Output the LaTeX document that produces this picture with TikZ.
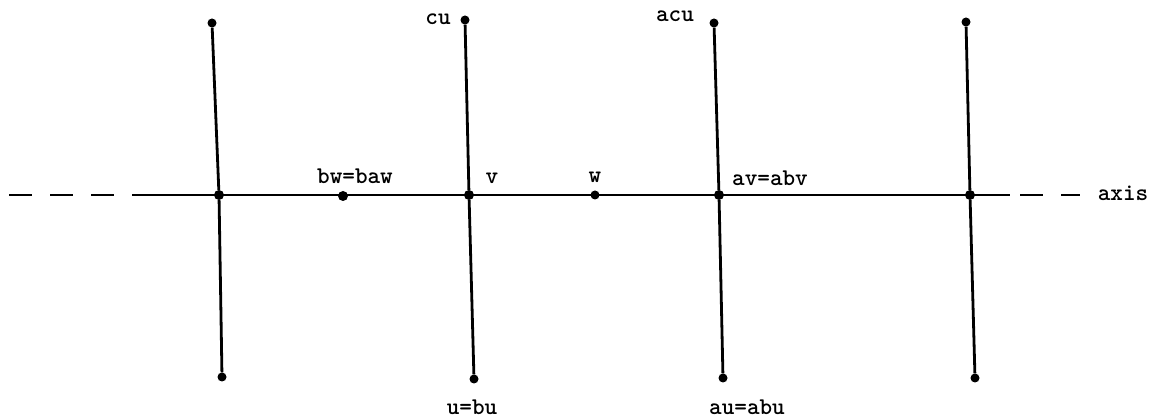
\documentclass[tikz,border=0pt]{standalone}
\begin{document}
\begin{tikzpicture}[x=1pt,y=-1pt,
  edge/.style={line width=2.8pt},
  dashline/.style={line width=2.8pt,dash pattern=on 23pt off 18pt},
  dot/.style={circle,fill=black,inner sep=0pt,minimum size=9pt},
  xdot/.style={circle,fill=black,inner sep=0pt,minimum size=10pt},
  lab/.style={font=\fontsize{24}{28}\selectfont\ttfamily\bfseries,inner sep=1pt}]
\useasboundingbox (0,0) rectangle (1157,419);
% endpoints
\node[dot] (t1) at (212,23) {};
\node[dot] (t2) at (465,20) {};
\node[dot] (t3) at (714,23) {};
\node[dot] (t4) at (966,22) {};
\node[dot] (b1) at (222,377) {};
\node[dot] (b2) at (474,379) {};
\node[dot] (b3) at (723,378) {};
\node[dot] (b4) at (975,378) {};
% crossings
\node[xdot] (c1) at (219,195) {};
\node[xdot] (c2) at (469,195) {};
\node[xdot] (c3) at (719,195) {};
\node[xdot] (c4) at (970,195) {};
\node[xdot] (bw) at (343,196) {};
\node[dot] (w) at (595,195) {};
\coordinate (sl) at (133,195);
\coordinate (sr) at (1010,195);
\coordinate (dl) at (9,195);
\coordinate (dr) at (1080,195);
% lines
\draw[edge] (t1) -- (c1) -- (b1);
\draw[edge] (t2) -- (c2) -- (b2);
\draw[edge] (t3) -- (c3) -- (b3);
\draw[edge] (t4) -- (c4) -- (b4);
\draw[edge] (sl) -- (c4.center -| sr);
\draw[dashline] (dl) -- (sl);
\draw[dashline] (sr) ++(10,0) -- (dr);
% labels
\node[lab] at (438,19) {cu};
\node[lab] at (675,16) {acu};
\node[lab] at (355,176) {bw=baw};
\node[lab] at (492,178) {v};
\node[lab] at (595,177) {w};
\node[lab] at (770,178) {av=abv};
\node[lab] at (472,407) {u=bu};
\node[lab] at (747,407) {au=abu};
\node[lab] at (1123,193) {axis};
\end{tikzpicture}
\end{document}
